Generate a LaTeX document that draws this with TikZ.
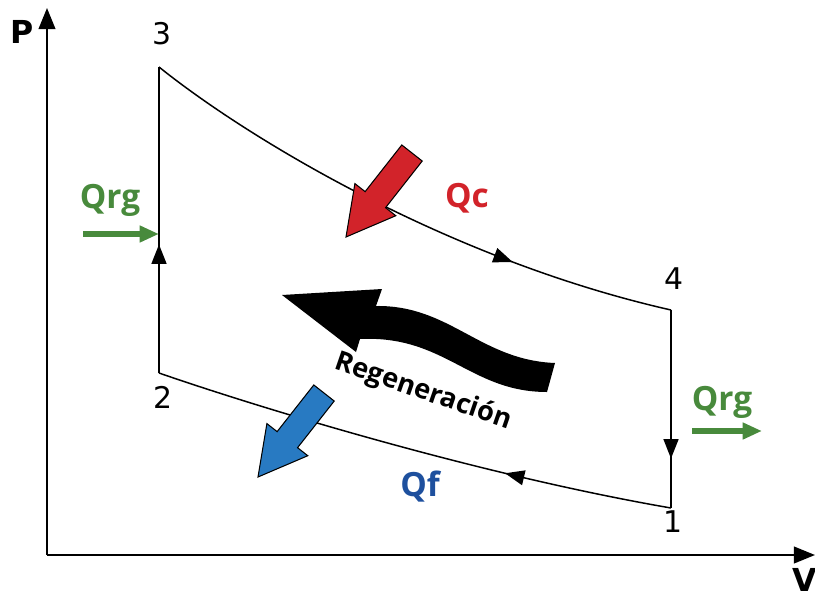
\documentclass[tikz,border=0pt]{standalone}
\usepackage{fontspec}
\setmainfont{Open Sans}
\newfontfamily\numfont{DejaVu Sans}
\usetikzlibrary{positioning,calc,arrows.meta,decorations.markings}

\definecolor{qcred}{RGB}{210,35,42}
\definecolor{qfblue}{RGB}{30,80,158}
\definecolor{heatblue}{RGB}{40,122,194}
\definecolor{qrggreen}{RGB}{72,138,60}

% block arrow: tail, tip, fill colour
\newcommand{\heatarrow}[3]{%
  \coordinate (hb) at ($(#2)!0.95cm!(#1)$);
  \filldraw[fill=#3, draw=black, line width=0.6pt, line join=miter]
    ($(#1)!0.26cm!90:(#2)$) -- ($(hb)!0.26cm!90:(#2)$) -- ($(hb)!0.52cm!90:(#2)$)
    -- (#2) -- ($(hb)!0.52cm!-90:(#2)$) -- ($(hb)!0.26cm!-90:(#2)$)
    -- ($(#1)!0.26cm!-90:(#2)$) -- cycle;
}

\begin{document}
\begin{tikzpicture}[
  x=0.02cm, y=-0.02cm,
  axis/.style={line width=1.1pt, -{Triangle[length=12pt, width=9.5pt]}},
  cycleline/.style={line width=0.85pt},
  midarrow/.style={postaction={decorate}, decoration={markings,
    mark=at position #1 with {\arrow{Triangle[length=11pt, width=8.5pt]}}}},
  heatflow/.style={qrggreen, line width=3pt, -{Triangle[length=11pt, width=9pt]}},
  numlabel/.style={font=\numfont\fontsize{17}{17}\selectfont, inner sep=0pt},
  axislabel/.style={font=\numfont\bfseries\fontsize{18}{18}\selectfont, inner sep=0pt},
  qlabel/.style={font=\bfseries\fontsize{19}{19}\selectfont, inner sep=0pt}
]
\useasboundingbox (0,0) rectangle (815,592);

% axes
\coordinate (origin) at (47,555);
\coordinate (ptop) at (47,8);
\coordinate (vend) at (815,555);
\draw[axis] (origin) -- (ptop);
\draw[axis] (origin) -- (vend);
\node[axislabel] (plabel) at (22,32) {P};
\node[axislabel] (vlabel) at (805,580) {V};

% cycle states
\coordinate (p1) at (671,508);
\coordinate (p2) at (159,373);
\coordinate (p3) at (159,67);
\coordinate (p4) at (671,310);

\draw[cycleline, midarrow=0.71] (p3) .. controls (250,140) and (450,260) .. (p4);
\draw[cycleline, midarrow=0.75] (p4) -- (p1);
\draw[cycleline, midarrow=0.32] (p1) .. controls (480,475) and (260,408) .. (p2);
\draw[cycleline, midarrow=0.42] (p2) -- (p3);

\node[numlabel] (n1) at (673,522) {1};
\node[numlabel] (n2) at (163,397) {2};
\node[numlabel] (n3) at (162,34) {3};
\node[numlabel] (n4) at (674,279) {4};

% heat in / out
\coordinate (qctail) at (412,153);
\coordinate (qctip) at (346,237);
\heatarrow{qctail}{qctip}{qcred}
\node[qlabel, text=qcred] (qc) at (467,198) {Qc};

\coordinate (qftail) at (324,393);
\coordinate (qftip) at (258,477);
\heatarrow{qftail}{qftip}{heatblue}
\node[qlabel, text=qfblue] (qf) at (420,487) {Qf};

% regeneration
\node[qlabel, text=qrggreen] (qrgin) at (110,200) {Qrg};
\coordinate (rgin) at (83,234);
\draw[heatflow] (rgin) -- (p2 |- rgin);
\node[qlabel, text=qrggreen] (qrgout) at (722,402) {Qrg};
\coordinate (rgstart) at (692,431);
\coordinate (rgend) at (762,431);
\draw[heatflow] (rgstart) -- (rgend);

\fill[black] (282,295) -- (382,289) -- (376,306)
  .. controls (450,305) and (480,360) .. (555,363) -- (547,392)
  .. controls (470,392) and (445,335) .. (360,339) -- (356,352) -- cycle;
\node[font=\bfseries\fontsize{15.5}{15.5}\selectfont, rotate=-19] (regen) at (423,392) {Regeneración};

\end{tikzpicture}
\end{document}
